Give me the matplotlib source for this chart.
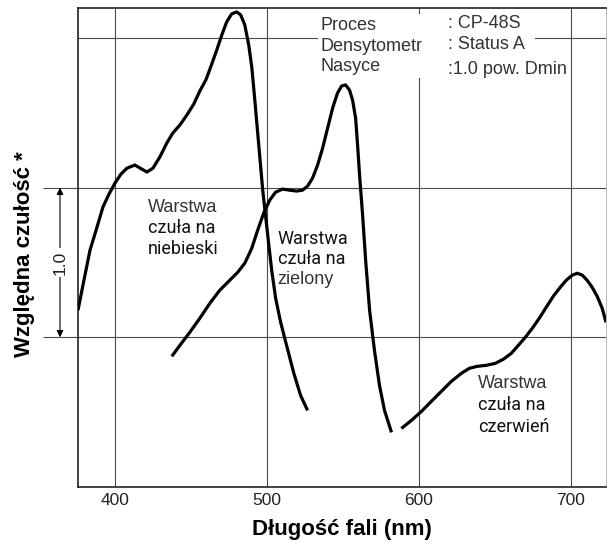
import matplotlib
matplotlib.use("Agg")
import matplotlib.pyplot as plt
from matplotlib.patches import Rectangle

# dane: długość fali (nm) i względna czułość
blue_nm = [375.7, 379.6, 383.6, 388.2, 392.1, 396.1, 400.0, 403.9, 407.9, 413.1,
           421.0, 425.0, 429.5, 434.1, 438.1, 442.7, 447.3, 451.9, 455.8, 459.8,
           463.7, 467.0, 470.3, 473.5, 476.8, 480.1, 482.7, 485.4, 488.0, 490.0,
           492.0, 493.9, 497.2, 500.5, 503.1, 505.7, 509.0, 512.9, 517.5, 522.1, 526.7]
blue_val = [0.181, 0.381, 0.582, 0.736, 0.870, 0.957, 1.030, 1.090, 1.130, 1.151,
            1.104, 1.130, 1.204, 1.298, 1.365, 1.418, 1.485, 1.559, 1.645, 1.719,
            1.826, 1.920, 2.020, 2.107, 2.161, 2.174, 2.154, 2.087, 1.953, 1.806,
            1.585, 1.365, 0.983, 0.682, 0.448, 0.261, 0.100, -0.054, -0.234, -0.388, -0.488]

green_nm = [437.4, 442.7, 449.2, 455.8, 462.4, 468.9, 475.5, 480.8, 485.4, 490.0,
            493.9, 497.8, 501.8, 505.7, 510.3, 514.9, 519.5, 523.4, 526.7, 530.0,
            533.3, 536.6, 539.9, 543.2, 546.4, 549.1, 551.7, 554.3, 556.3, 558.3,
            559.6, 560.9, 562.9, 564.9, 567.5, 570.7, 574.0, 577.3, 581.9]
green_val = [-0.127, -0.054, 0.033, 0.127, 0.227, 0.314, 0.381, 0.435, 0.495, 0.595,
             0.716, 0.829, 0.916, 0.970, 0.990, 0.983, 0.977, 0.983, 1.010, 1.064,
             1.151, 1.264, 1.398, 1.532, 1.632, 1.679, 1.686, 1.652, 1.585, 1.465,
             1.284, 1.084, 0.816, 0.515, 0.181, -0.087, -0.321, -0.488, -0.635]

red_nm = [588.4, 595.0, 601.6, 608.1, 614.7, 621.3, 627.8, 633.1, 638.3, 644.3,
          650.2, 655.4, 660.7, 665.3, 669.9, 674.5, 679.1, 683.7, 688.3, 692.9,
          696.8, 700.8, 704.1, 707.4, 710.6, 713.9, 717.2, 720.5, 723.0]
red_val = [-0.609, -0.555, -0.495, -0.428, -0.361, -0.294, -0.241, -0.207, -0.194, -0.187,
           -0.174, -0.147, -0.107, -0.054, 0.000, 0.060, 0.127, 0.201, 0.274, 0.334,
           0.381, 0.415, 0.428, 0.415, 0.381, 0.334, 0.274, 0.194, 0.100]

xticks = [400, 500, 600, 700]
grid_levels = [0, 1, 2]

info_labels = ["Proces", "Densytometr", "Nasyce"]
info_values = [": CP-48S", ": Status A", ":1.0 pow. Dmin"]

THIN = ["Liberation Sans", "DejaVu Sans"]
REG = ["Roboto", "DejaVu Sans"]
BOLD = ["Liberation Sans", "DejaVu Sans"]
grid_c = "#4a4a4a"

fig = plt.figure(figsize=(6.07, 5.47), dpi=100)
ax = fig.add_axes([78 / 607, 60 / 547, 528 / 607, 479 / 547])
ax.set_xlim(375.7, 723.0)
ax.set_ylim(-1.0, 2.2)

for v in xticks:
    ax.axvline(v, color=grid_c, lw=0.8, zorder=1)
for v in grid_levels:
    ax.axhline(v, color=grid_c, lw=0.8, zorder=1)

for xs, ys in [(blue_nm, blue_val), (green_nm, green_val), (red_nm, red_val)]:
    ax.plot(xs, ys, color="black", lw=2.3, zorder=4,
            solid_capstyle="butt", solid_joinstyle="round")

# osie
for s in ["left", "bottom", "top"]:
    ax.spines[s].set_color("#222222")
    ax.spines[s].set_linewidth(1.2)
ax.spines["right"].set_color("#bbbbbb")
ax.spines["right"].set_linewidth(0.8)

ax.set_xticks(xticks)
ax.set_xticklabels([str(v) for v in xticks], family=THIN,
                   fontsize=12.5, color="#222222")
ax.tick_params(axis="x", length=0, pad=4)
ax.set_yticks([0, 1])
ax.set_yticklabels([])
ax.tick_params(axis="y", direction="out", length=25.2, width=0.8, color=grid_c)

ax.set_xlabel("Długość fali (nm)", family=BOLD, fontweight="bold", fontsize=16,
              labelpad=8)
fig.text(25 / 607, 1 - 254 / 547, "Względna czułość *", family=BOLD,
         fontweight="bold", fontsize=16, rotation=90, ha="center", va="center")

# strzałka 1.0
ax.annotate("", xy=(-18 / 528, 1), xytext=(-18 / 528, 0),
            xycoords=("axes fraction", "data"), textcoords=("axes fraction", "data"),
            arrowprops=dict(arrowstyle="<|-|>", color="black", lw=0.8,
                            mutation_scale=10, shrinkA=0, shrinkB=0),
            annotation_clip=False)
ax.text(-18 / 528, 0.5, "1.0", transform=ax.get_yaxis_transform(), rotation=90,
        ha="center", va="center", family=THIN, fontsize=12.5, color="#222222",
        bbox=dict(boxstyle="square,pad=0.15", fc="white", ec="none"), clip_on=False)

# opisy warstw
def layer_label(x, ys, lines, thin):
    for y, t, th in zip(ys, lines, thin):
        ax.text(x, y, t, ha="left", va="center", family=THIN if th else REG,
                fontsize=13, color="#333333" if th else "#111111", zorder=5)

layer_label(421.7, [0.870, 0.729, 0.589], ["Warstwa", "czuła na", "niebieski"],
            [True, False, False])
layer_label(507.0, [0.660, 0.525, 0.385], ["Warstwa", "czuła na", "zielony"],
            [False, False, True])
layer_label(639.0, [-0.308, -0.455, -0.602], ["Warstwa", "czuła na", "czerwień"],
            [True, False, False])

# tabelka procesu (białe tło zasłania siatkę)
ax.add_patch(Rectangle((0.4545, 0.8914), 0.411, 0.096, transform=ax.transAxes,
                       fc="white", ec="none", zorder=2))
box = dict(boxstyle="square,pad=0.15", fc="white", ec="none")
ax.text(535.5, 1.946, "\n".join(info_labels), ha="left", va="center", family=THIN,
        fontsize=13, color="#333333", linespacing=1.3, bbox=box, zorder=3)
ax.text(619.0, 2.026, "\n".join(info_values[:2]), ha="left", va="center", family=THIN,
        fontsize=13, color="#333333", linespacing=1.3, bbox=box, zorder=3)
ax.text(619.0, 1.786, info_values[2], ha="left", va="center", family=THIN,
        fontsize=13, color="#333333", bbox=box, zorder=3)

fig.savefig("out.png", dpi=100, facecolor="white")
